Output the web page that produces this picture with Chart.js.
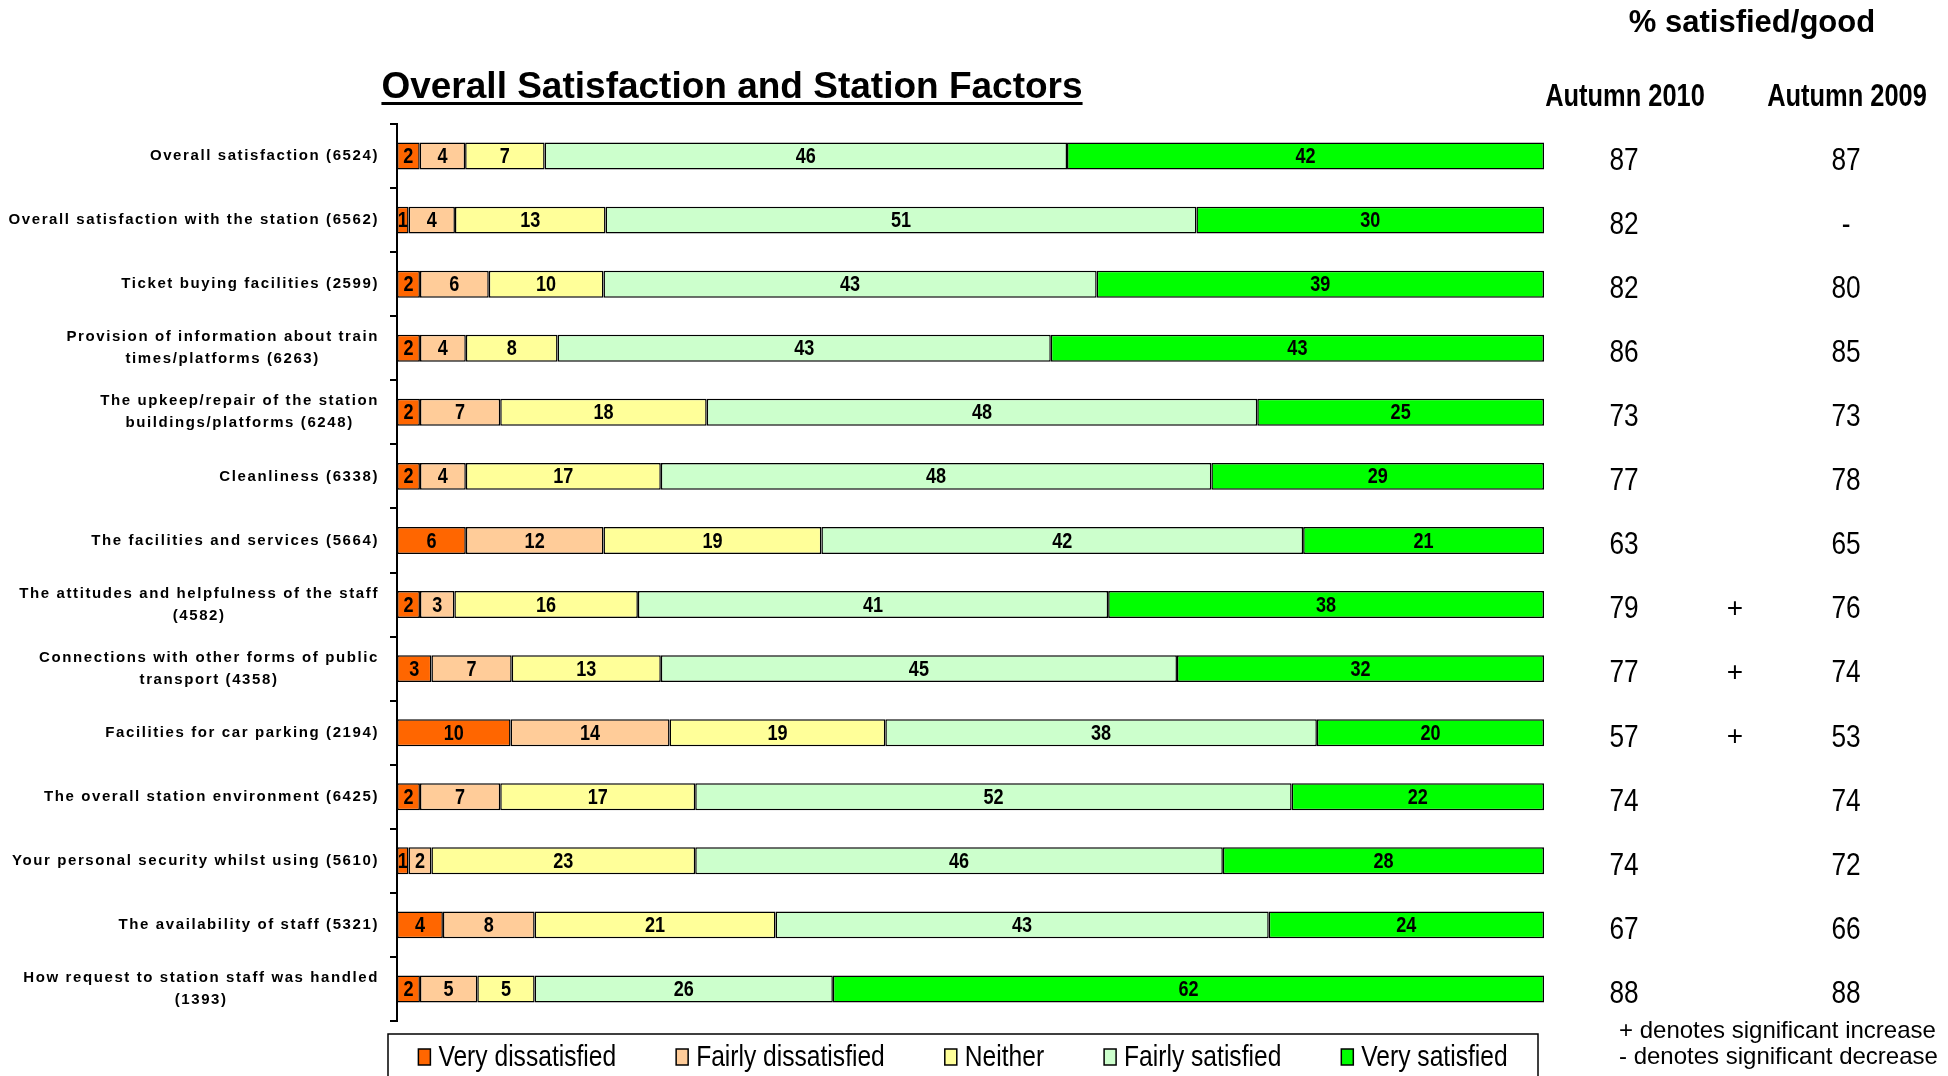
<!DOCTYPE html>
<html>
<head>
<meta charset="utf-8">
<title>Overall Satisfaction and Station Factors</title>
<script src="https://cdn.jsdelivr.net/npm/chart.js@4.4.0/dist/chart.umd.min.js"></script>
<style>
  html, body { margin: 0; padding: 0; background: #fff; }
  #satisfaction-canvas { display: block; }
</style>
</head>
<body>
<canvas id="satisfaction-canvas" width="1948" height="1076"></canvas>
<script>
// ─── DATA ─────────────────────────────────────────────────────
const CATEGORIES = [
  'Overall satisfaction (6524)',
  'Overall satisfaction with the station (6562)',
  'Ticket buying facilities (2599)',
  ['Provision of information about train', 'times/platforms (6263)'],
  ['The upkeep/repair of the station', 'buildings/platforms (6248)'],
  'Cleanliness (6338)',
  'The facilities and services (5664)',
  ['The attitudes and helpfulness of the staff', '(4582)'],
  ['Connections with other forms of public', 'transport (4358)'],
  'Facilities for car parking (2194)',
  'The overall station environment (6425)',
  'Your personal security whilst using (5610)',
  'The availability of staff (5321)',
  ['How request to station staff was handled', '(1393)'],
];

const SERIES = ['Very dissatisfied', 'Fairly dissatisfied', 'Neither', 'Fairly satisfied', 'Very satisfied'];

const VERY_DISSATISFIED   = [2, 1, 2, 2, 2, 2, 6, 2, 3, 10, 2, 1, 4, 2];
const FAIRLY_DISSATISFIED = [4, 4, 6, 4, 7, 4, 12, 3, 7, 14, 7, 2, 8, 5];
const NEITHER             = [7, 13, 10, 8, 18, 17, 19, 16, 13, 19, 17, 23, 21, 5];
const FAIRLY_SATISFIED    = [46, 51, 43, 43, 48, 48, 42, 41, 45, 38, 52, 46, 43, 26];
const VERY_SATISFIED      = [42, 30, 39, 43, 25, 29, 21, 38, 32, 20, 22, 28, 24, 62];

const TABLE_HEADING = '% satisfied/good';
const COLUMN_HEADS  = ['Autumn 2010', 'Autumn 2009'];
const AUTUMN_2010   = ['87', '82', '82', '86', '73', '77', '63', '79', '77', '57', '74', '74', '67', '88'];
const AUTUMN_2009   = ['87', '-', '80', '85', '73', '78', '65', '76', '74', '53', '74', '72', '66', '88'];
const SIG_CHANGE    = ['', '', '', '', '', '', '', '+', '+', '+', '', '', '', ''];
const FOOTNOTES     = ['+ denotes significant increase', '- denotes significant decrease'];

const TITLE  = 'Overall Satisfaction and Station Factors';
const COLORS = ['#FF6600', '#FFCC99', '#FFFF99', '#CCFFCC', '#00FF00'];

// ─── HELPERS ──────────────────────────────────────────────────
const RAW = [VERY_DISSATISFIED, FAIRLY_DISSATISFIED, NEITHER, FAIRLY_SATISFIED, VERY_SATISFIED];
// rounded figures do not always add to 100, so each bar is scaled to its row total
const ROW_TOTALS = CATEGORIES.map((_, j) => RAW.reduce((s, arr) => s + arr[j], 0));
const SHARES = RAW.map(arr => arr.map((v, j) => v / ROW_TOTALS[j] * 100));

const SANS = '"Liberation Sans", Arial, sans-serif';
const SQUEEZE = 0.82;   // no Arial Narrow installed, so squeeze Arial sideways

function narrowText(ctx, text, x, y) {
  ctx.save();
  ctx.translate(x, y);
  ctx.scale(SQUEEZE, 1);
  ctx.fillText(text, 0, 0);
  ctx.restore();
}

// ─── PLUGINS ──────────────────────────────────────────────────
const rowLabels = {
  id: 'rowLabels',
  afterDraw(chart) {
    const { ctx, scales: { y } } = chart;
    ctx.save();
    ctx.font = `bold 15px ${SANS}`;
    ctx.letterSpacing = '1.6px';
    ctx.fillStyle = '#000';
    ctx.textAlign = 'center';
    ctx.textBaseline = 'middle';
    CATEGORIES.forEach((label, j) => {
      const lines = Array.isArray(label) ? label : [label];
      const w = Math.max(...lines.map(l => ctx.measureText(l).width));
      const cx = 379 - w / 2;
      const cy = y.getPixelForValue(j);
      lines.forEach((l, k) => {
        ctx.fillText(l, cx, cy + (k - (lines.length - 1) / 2) * 22);
      });
    });
    ctx.restore();
  },
};

const barValues = {
  id: 'barValues',
  afterDatasetsDraw(chart) {
    const { ctx } = chart;
    ctx.save();
    ctx.font = `bold 22px ${SANS}`;
    ctx.fillStyle = '#000';
    ctx.textAlign = 'center';
    ctx.textBaseline = 'middle';
    RAW.forEach((arr, i) => {
      chart.getDatasetMeta(i).data.forEach((bar, j) => {
        narrowText(ctx, String(arr[j]), (bar.x + bar.base) / 2, bar.y + 1);
      });
    });
    ctx.restore();
  },
};

const headings = {
  id: 'headings',
  afterDraw(chart) {
    const { ctx, scales: { y } } = chart;
    ctx.save();
    ctx.fillStyle = '#000';

    // title, underlined
    ctx.font = `bold 37px ${SANS}`;
    ctx.textAlign = 'center';
    ctx.textBaseline = 'alphabetic';
    ctx.fillText(TITLE, 732, 98);
    const tw = ctx.measureText(TITLE).width;
    ctx.fillRect(732 - tw / 2, 102, tw, 3);

    // right-hand table
    ctx.font = `bold 31px ${SANS}`;
    ctx.fillText(TABLE_HEADING, 1752, 32);
    ctx.textBaseline = 'middle';
    narrowText(ctx, COLUMN_HEADS[0], 1625, 97);
    narrowText(ctx, COLUMN_HEADS[1], 1847, 97);

    CATEGORIES.forEach((_, j) => {
      const cy = y.getPixelForValue(j) + 5;
      ctx.font = `32px ${SANS}`;
      narrowText(ctx, AUTUMN_2010[j], 1624, cy);
      narrowText(ctx, AUTUMN_2009[j], 1846, cy);
      if (SIG_CHANGE[j]) {
        ctx.font = `28px ${SANS}`;
        ctx.fillText(SIG_CHANGE[j], 1735, cy);
      }
    });

    ctx.font = `24px ${SANS}`;
    ctx.textAlign = 'left';
    ctx.fillText(FOOTNOTES[0], 1619, 1031);
    ctx.fillText(FOOTNOTES[1], 1619, 1057);
    ctx.restore();
  },
};

const boxedLegend = {
  id: 'boxedLegend',
  afterDraw(chart) {
    const { ctx } = chart;
    const box = { left: 388, right: 1538, top: 1034, bottom: 1082 };
    const gap = 60, marker = 12, markerGap = 8, cy = 1057;
    ctx.save();
    ctx.strokeStyle = '#000';
    ctx.lineWidth = 1.5;
    ctx.strokeRect(box.left, box.top, box.right - box.left, box.bottom - box.top);

    ctx.font = `30px ${SANS}`;
    ctx.textBaseline = 'middle';
    ctx.textAlign = 'left';
    const items = chart.data.datasets.map(ds => ({
      text: ds.label, color: ds.backgroundColor,
      w: marker + markerGap + ctx.measureText(ds.label).width * SQUEEZE,
    }));
    const total = items.reduce((s, it) => s + it.w, 0) + gap * (items.length - 1);
    let x = (box.left + box.right) / 2 - total / 2;
    items.forEach(it => {
      ctx.fillStyle = it.color;
      ctx.fillRect(x, cy - 8, marker, 16);
      ctx.lineWidth = 1.5;
      ctx.strokeRect(x, cy - 8, marker, 16);
      ctx.fillStyle = '#000';
      narrowText(ctx, it.text, x + marker + markerGap, cy + 1);
      x += it.w + gap;
    });
    ctx.restore();
  },
};

// ─── BUILD CHART ──────────────────────────────────────────────
new Chart(document.getElementById('satisfaction-canvas').getContext('2d'), {
  type: 'bar',
  data: {
    labels: CATEGORIES,
    datasets: SERIES.map((name, i) => ({
      label: name,
      data: SHARES[i],
      backgroundColor: COLORS[i],
      borderColor: '#000',
      borderWidth: 1.5,
      borderSkipped: false,
      barPercentage: 0.42,
      categoryPercentage: 1,
    })),
  },
  options: {
    indexAxis: 'y',
    responsive: false,
    devicePixelRatio: 1,
    animation: false,
    events: [],
    layout: { padding: { top: 124, right: 404, bottom: 55, left: 0 } },
    plugins: {
      legend: { display: false },
      title: { display: false },
      tooltip: { enabled: false },
    },
    scales: {
      x: { stacked: true, min: 0, max: 100, display: false },
      y: {
        stacked: true,
        ticks: { display: false },
        grid: { drawOnChartArea: false, color: '#000', lineWidth: 2, tickLength: 7, offset: true },
        border: { color: '#000', width: 2 },
        afterFit: (scale) => { scale.width = 397; },
      },
    },
  },
  plugins: [barValues, rowLabels, headings, boxedLegend],
});
</script>
</body>
</html>
